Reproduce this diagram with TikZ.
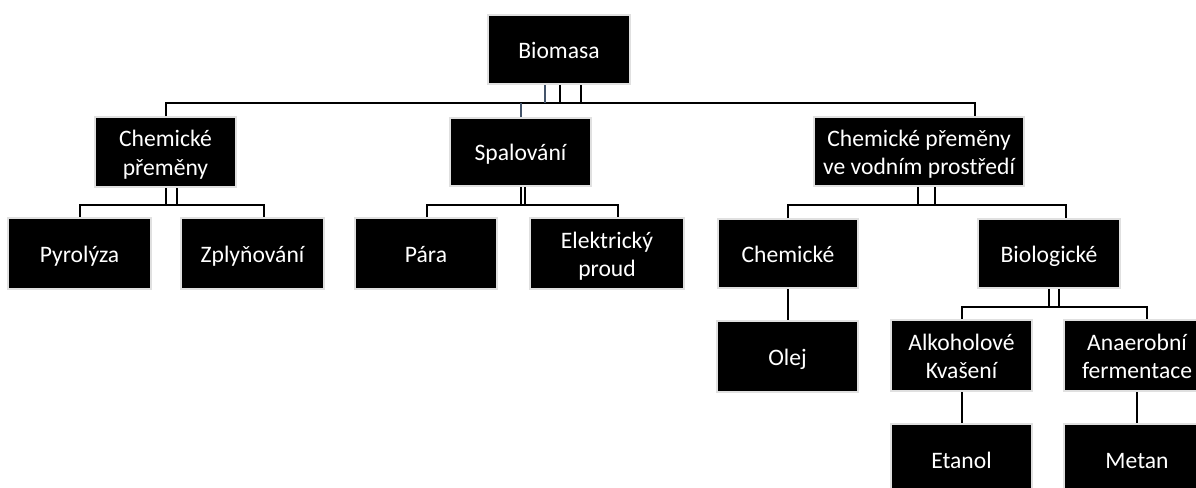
\documentclass[tikz,border=0pt]{standalone}
\usepackage{fontspec}
\setmainfont{Carlito}
\definecolor{slate}{RGB}{68,84,106}
\newcommand{\mystr}{\rule[-5.3pt]{0pt}{28.5pt}}
\begin{document}
\begin{tikzpicture}[x=1pt,y=-1pt,
  box/.style={fill=black,draw=black!12,line width=2pt,inner sep=0pt,text=white,align=center,
    font=\fontsize{23.6}{28.5}\selectfont},
  ln/.style={line width=2pt,black},
  bl/.style={line width=2pt,slate}]
\clip (0,0) rectangle (1196,487);
\useasboundingbox (0,0) rectangle (1196,487);
% boxes
\node[box,minimum width=142pt,minimum height=69pt] (bio) at (559,49.5) {\mystr Biomasa};
\node[box,minimum width=141pt,minimum height=70pt] (cp) at (165.5,152) {\mystr Chemické\\\mystr přeměny};
\node[box,minimum width=141pt,minimum height=68pt] (sp) at (520.5,152) {\mystr Spalování};
\node[box,minimum width=210pt,minimum height=69pt] (vp) at (919,151.5) {\mystr Chemické přeměny\\\mystr ve vodním prostředí};
\node[box,minimum width=143pt,minimum height=71pt] (pyr) at (79.5,253.5) {\mystr Pyrolýza};
\node[box,minimum width=143pt,minimum height=71pt] (zpl) at (252.5,253.5) {\mystr Zplyňování};
\node[box,minimum width=142pt,minimum height=71pt] (para) at (426,253.5) {\mystr Pára};
\node[box,minimum width=154pt,minimum height=71pt] (ele) at (607,253.5) {\mystr Elektrický\\\mystr proud};
\node[box,minimum width=140pt,minimum height=69pt] (chem) at (788,253.5) {\mystr Chemické};
\node[box,minimum width=142pt,minimum height=69pt] (bio2) at (1049,253.5) {\mystr Biologické};
\node[box,minimum width=141pt,minimum height=71pt] (olej) at (787.5,356.5) {\mystr Olej};
\node[box,minimum width=141pt,minimum height=71pt] (alk) at (961.5,355.5) {\mystr Alkoholové\\\mystr Kvašení};
\node[box,minimum width=146pt,minimum height=71pt] (ana) at (1137,355.5) {\mystr Anaerobní\\\mystr fermentace};
\node[box,minimum width=141pt,minimum height=71pt] (eta) at (961.5,459.5) {\mystr Etanol};
\node[box,minimum width=146pt,minimum height=71pt] (met) at (1137,459.5) {\mystr Metan};
% bus levels
\coordinate (y1) at (0,103);
\coordinate (y2) at (0,205);
\coordinate (y3) at (0,307);
% level 1
\coordinate (vpT) at ([xshift=56pt]vp.north);
\draw[ln] (cp.north) -- (cp.north |- y1) -- (vpT |- y1) -- (vpT);
\coordinate (spT) at ([xshift=0.5pt]sp.north);
\draw[bl] (spT) -- (spT |- y1);
\coordinate (b1) at ([xshift=-14pt]bio.south);
\coordinate (b2) at ([xshift=1pt]bio.south);
\coordinate (b3) at ([xshift=22pt]bio.south);
\draw[bl] (b1) -- (b1 |- y1);
\draw[ln] (b2) -- (b2 |- y1);
\draw[ln] (b3) -- (b3 |- y1);
% chemicke premeny
\coordinate (c1) at ([xshift=0.5pt]cp.south);
\coordinate (c2) at ([xshift=11.5pt]cp.south);
\draw[ln] (c1) -- (c1 |- y2);
\draw[ln] (c2) -- (c2 |- y2);
\coordinate (zplT) at ([xshift=11.5pt]zpl.north);
\draw[ln] (pyr.north) -- (pyr.north |- y2) -- (zplT |- y2) -- (zplT);
% spalovani
\coordinate (s1) at ([xshift=0.5pt]sp.south);
\coordinate (s2) at ([xshift=4.5pt]sp.south);
\draw[ln] (s1) -- (s1 |- y2);
\draw[ln] (s2) -- (s2 |- y2);
\coordinate (paraT) at ([xshift=1pt]para.north);
\coordinate (eleT) at ([xshift=11pt]ele.north);
\draw[ln] (paraT) -- (paraT |- y2) -- (eleT |- y2) -- (eleT);
% vodni prostredi
\coordinate (v1) at ([xshift=-1pt]vp.south);
\coordinate (v2) at ([xshift=16pt]vp.south);
\draw[ln] (v1) -- (v1 |- y2);
\draw[ln] (v2) -- (v2 |- y2);
\coordinate (bio2T) at ([xshift=17pt]bio2.north);
\draw[ln] (chem.north) -- (chem.north |- y2) -- (bio2T |- y2) -- (bio2T);
% biologicke
\coordinate (g1) at (bio2.south);
\coordinate (g2) at ([xshift=10pt]bio2.south);
\draw[ln] (g1) -- (g1 |- y3);
\draw[ln] (g2) -- (g2 |- y3);
\coordinate (anaT) at ([xshift=10pt]ana.north);
\draw[ln] (alk.north) -- (alk.north |- y3) -- (anaT |- y3) -- (anaT);
% single links
\draw[ln] (chem.south) -- (chem.south |- olej.north);
\draw[ln] (alk.south) -- (eta.north);
\draw[ln] (ana.south) -- (met.north);
\end{tikzpicture}
\end{document}
